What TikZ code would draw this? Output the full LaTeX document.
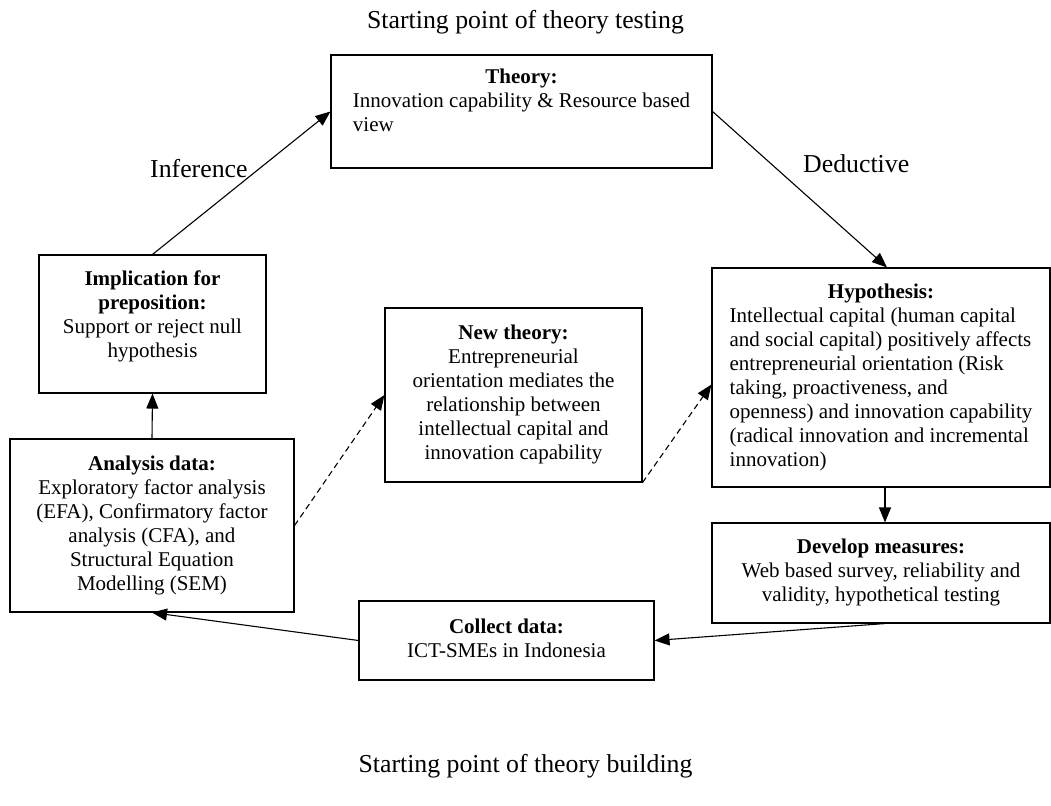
\documentclass[tikz,border=0pt]{standalone}
\usepackage{fontspec}
\setmainfont{Liberation Serif}
\usetikzlibrary{arrows.meta}

% text sizes for box contents and free labels
\newcommand\boxfont{\fontsize{21}{24}\selectfont}
\newcommand\lblfont{\fontsize{25.8}{30}\selectfont}
% centred block and left block with a centred heading
\newcommand\blockc[1]{\begin{tabular}{@{}c@{}}#1\end{tabular}}
\newcommand\blockl[2]{\begin{tabular}{@{}l@{}}\multicolumn{1}{@{}c@{}}{\bfseries #1}\\ #2\end{tabular}}

\begin{document}
\begin{tikzpicture}[x=1pt,y=-1pt,
  box/.style={draw=black, line width=1.1pt, inner sep=0pt, font=\boxfont},
  lbl/.style={font=\lblfont, inner sep=0pt},
  link/.style={-{Triangle[length=15pt,width=12pt]}, line width=1.1pt},
  dlink/.style={link, dash pattern=on 6pt off 4pt}]

\useasboundingbox (0,0) rectangle (1051,805);

% cycle of research stages
\node[box, minimum width=381pt, minimum height=113pt] (theory) at (521.5,111.5)
  {\blockl{Theory:}{Innovation capability \& Resource based\\ view\\[18pt]}};
\node[box, minimum width=338pt, minimum height=219pt] (hyp) at (881,377.5)
  {\blockl{Hypothesis:}{Intellectual capital (human capital\\
   and social capital) positively affects\\
   entrepreneurial orientation (Risk\\
   taking, proactiveness, and\\
   openness) and innovation capability\\
   (radical innovation and incremental\\
   innovation)}};
\node[box, minimum width=338pt, minimum height=100pt] (develop) at (881,573)
  {\blockc{\bfseries Develop measures:\\
   Web based survey, reliability and\\
   validity, hypothetical testing}};
\node[box, minimum width=295pt, minimum height=79pt] (collect) at (506.5,640.5)
  {\blockc{\bfseries Collect data:\\ ICT-SMEs in Indonesia}};
\node[box, minimum width=284pt, minimum height=173pt] (analysis) at (152,525.5)
  {\blockc{\bfseries Analysis data:\\
   Exploratory factor analysis\\
   (EFA), Confirmatory factor\\
   analysis (CFA), and\\
   Structural Equation\\
   Modelling (SEM)}};
\node[box, minimum width=227pt, minimum height=138pt] (impl) at (152.5,324)
  {\blockc{\bfseries Implication for\\
   \bfseries preposition:\\
   Support or reject null\\
   hypothesis\\[14pt]}};
\node[box, minimum width=257pt, minimum height=174pt] (newth) at (513.5,395)
  {\blockc{\bfseries New theory:\\
   Entrepreneurial\\
   orientation mediates the\\
   relationship between\\
   intellectual capital and\\
   innovation capability}};

% free labels
\node[lbl, anchor=base] (toplbl) at (525.5,29) {Starting point of theory testing};
\node[lbl, anchor=base] (botlbl) at (525.5,772) {Starting point of theory building};
\node[lbl, anchor=base west] (inflbl) at (150,178) {Inference};
\node[lbl, anchor=base west] (deflbl) at (803,172) {Deductive};

% connectors
\draw[link] (impl.north) -- (theory.west);
\draw[link] (theory.east) -- ([xshift=6pt]hyp.north);
\draw[link] ([xshift=4pt]hyp.south) -- ([xshift=4pt]develop.north);
\draw[link] ([xshift=4pt]develop.south) -- (collect.east);
\draw[link] (collect.west) -- (analysis.south);
\draw[link] (analysis.north) -- (impl.south);
\draw[dlink] (analysis.east) -- (newth.west);
\draw[dlink] (newth.south east) -- ([yshift=-7pt]hyp.west);

\end{tikzpicture}
\end{document}
